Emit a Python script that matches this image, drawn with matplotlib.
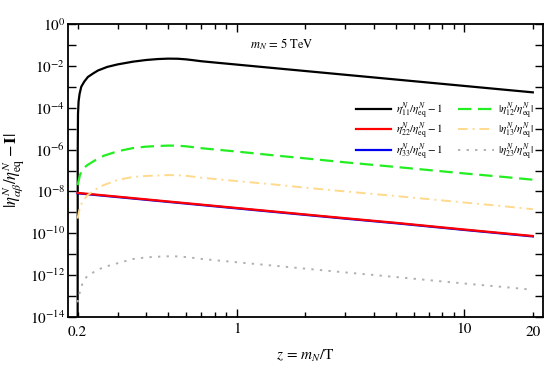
import matplotlib
matplotlib.use("Agg")
import matplotlib.pyplot as plt
import numpy as np
from matplotlib.ticker import FixedLocator, FixedFormatter

plt.rcParams['font.family'] = ['STIXGeneral', 'DejaVu Serif']
plt.rcParams['mathtext.fontset'] = 'stix'

# ---- data (log10 values) ----
z_11 = [0.2, 0.2003, 0.2008, 0.202, 0.204, 0.2075, 0.214, 0.222, 0.235, 0.246, 0.27, 0.3,
        0.35, 0.4, 0.45, 0.5, 0.55, 0.6, 0.65, 0.7, 0.8, 1.0, 1.5, 2.0, 3.0, 5.0, 7.0,
        10.0, 15.0, 20.0]
log_11 = [-20, -6.0, -4.3, -3.7, -3.35, -3.0, -2.75, -2.53, -2.35, -2.22, -2.05, -1.93,
          -1.80, -1.72, -1.675, -1.655, -1.66, -1.69, -1.735, -1.78, -1.84, -1.939, -2.119,
          -2.246, -2.426, -2.652, -2.801, -2.959, -3.139, -3.266]

z_diag = [0.2, 0.3, 0.5, 1.0, 2.0, 3.0, 5.0, 10.0, 20.0]
log_22 = [-8.07, -8.25, -8.48, -8.79, -9.10, -9.28, -9.50, -9.82, -10.13]
log_33 = [-8.09, -8.27, -8.50, -8.81, -9.12, -9.30, -9.52, -9.84, -10.15]

z_off = [0.2, 0.202, 0.205, 0.21, 0.22, 0.24, 0.26, 0.3, 0.35, 0.4, 0.45, 0.5, 0.55, 0.6,
         0.65, 0.7, 0.8, 1.0, 1.5, 2.0, 3.0, 5.0, 7.0, 10.0, 15.0, 20.0]
log_12 = [-7.7, -7.5, -7.2, -6.95, -6.75, -6.5, -6.3, -6.08, -5.93, -5.86, -5.83, -5.81, -5.815, -5.845,
          -5.89, -5.935, -5.995, -6.094, -6.29, -6.42, -6.61, -6.83, -6.98, -7.14, -7.31, -7.44]
log_13 = [-9.3, -9.05, -8.75, -8.5, -8.2, -7.9, -7.7, -7.45, -7.31, -7.26, -7.24, -7.22, -7.225, -7.255,
          -7.30, -7.345, -7.405, -7.504, -7.68, -7.82, -8.0, -8.22, -8.37, -8.53, -8.71, -8.85]
log_23 = [-13.3, -13.0, -12.8, -12.4, -12.05, -11.8, -11.62, -11.43, -11.23, -11.15, -11.12, -11.1, -11.105, -11.135,
          -11.18, -11.225, -11.285, -11.384, -11.56, -11.69, -11.87, -12.09, -12.24, -12.40, -12.57, -12.70]

labels = [r'$\eta^N_{11}/\eta^N_{\rm eq}-1$', r'$\eta^N_{22}/\eta^N_{\rm eq}-1$',
          r'$\eta^N_{33}/\eta^N_{\rm eq}-1$', r'$|\eta^N_{12}/\eta^N_{\rm eq}|$',
          r'$|\eta^N_{13}/\eta^N_{\rm eq}|$', r'$|\eta^N_{23}/\eta^N_{\rm eq}|$']

x_major = [1, 10]
x_major_labels = ['1', '10']
x_minor = [0.2, 0.3, 0.4, 0.5, 0.6, 0.7, 0.8, 0.9, 2, 3, 4, 5, 6, 7, 8, 9, 20]
x_minor_labels = ['0.2'] + [''] * 15 + ['20']

fig = plt.figure(figsize=(5.45, 3.66), dpi=100)
ax = fig.add_axes([68/545, 1-317/366, (543-68)/545, (317-24)/366])

def P(v):
    return 10.0 ** np.array(v, dtype=float)

h11, = ax.plot(z_11, P(log_11), color='black', lw=1.6)
h33, = ax.plot(z_diag, P(log_33), color='#0000ee', lw=1.6)
h22, = ax.plot(z_diag, P(log_22), color='#ff0000', lw=1.6)
h12, = ax.plot(z_off, P(log_12), color='#22ee22', lw=1.6, dashes=(6, 3))
h13, = ax.plot(z_off, P(log_13), color='#ffd98c', lw=1.4, dashes=(5, 2.5, 1, 2.5))
h23, = ax.plot(z_off, P(log_23), color='#b0b0b0', lw=1.4, dashes=(1.2, 3.2))

ax.set_xscale('log')
ax.set_yscale('log')
ax.set_xlim(0.1815, 22.17)
ax.set_ylim(1e-14, 1)

# y ticks
yt = [10.0 ** k for k in range(-14, 1)]
ylab = [r'$10^{%d}$' % k if k % 2 == 0 else '' for k in range(-14, 1)]
ax.yaxis.set_major_locator(FixedLocator(yt))
ax.yaxis.set_major_formatter(FixedFormatter(ylab))
ax.yaxis.set_minor_locator(FixedLocator([]))

# x ticks
ax.xaxis.set_major_locator(FixedLocator(x_major))
ax.xaxis.set_major_formatter(FixedFormatter(x_major_labels))
ax.xaxis.set_minor_locator(FixedLocator(x_minor))
ax.xaxis.set_minor_formatter(FixedFormatter(x_minor_labels))

ax.tick_params(which='both', direction='in', top=True, right=True, labelsize=11, width=1.0)
ax.tick_params(axis='x', which='major', length=6, pad=4)
ax.tick_params(axis='x', which='minor', length=3.5, pad=6.5)
ax.tick_params(axis='y', which='major', length=6, pad=2)
for s in ax.spines.values():
    s.set_linewidth(1.3)

ax.set_xlabel(r'$z\,=\,m_{N}/{\rm T}$', fontsize=11, labelpad=6)
ax.set_ylabel(r'$|\eta^N_{\alpha\beta}/\eta^N_{\rm eq}-\mathbf{I}|$', fontsize=12, labelpad=2)

ax.text(1.14, 10 ** -0.96, r'$m_{N}\,=\,5\;{\rm TeV}$', fontsize=9,
        ha='left', va='center')

leg = ax.legend([h11, h22, h33, h12, h13, h23], labels, ncol=2, frameon=False,
                fontsize=8, loc='upper right', bbox_to_anchor=(0.99, 0.756),
                handlelength=3.2, handletextpad=0.4, columnspacing=1.4,
                labelspacing=0.0, borderaxespad=0)

fig.savefig('out.png', dpi=100)
